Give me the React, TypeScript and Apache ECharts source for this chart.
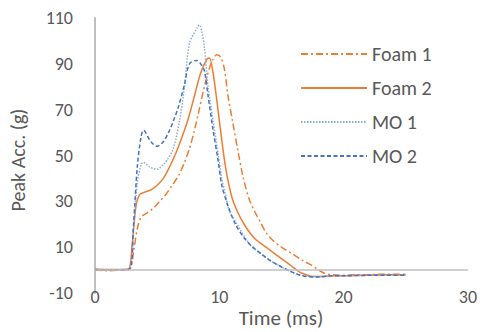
import React, { useEffect, useRef } from "react";
import * as echarts from "echarts";

const seriesNames = ["Foam 1", "Foam 2", "MO 1", "MO 2"];

const foam1: [number, number][] = [
  [0, 0], [1, -0.3], [2, 0], [2.8, 0.5], [3.1, 8], [3.4, 18], [3.7, 23], [4.2, 25], [4.7, 27],
  [5.2, 30], [5.7, 33], [6.2, 37], [6.7, 41], [7.2, 47], [7.6, 53], [8, 61], [8.3, 68],
  [8.8, 80], [9.2, 88], [9.5, 92], [9.8, 94], [10.1, 93], [10.4, 88], [10.7, 76], [11.1, 64],
  [11.5, 52], [11.9, 41], [12.4, 31], [12.9, 25], [13.3, 21], [13.8, 16], [14.3, 13],
  [15, 10], [15.9, 7], [16.6, 4.5], [17.3, 2.5], [18, 0], [18.5, -1.5], [19, -2],
  [20, -2.3], [21, -2], [22, -2], [23, -1.8], [24, -1.8], [25, -1.8],
];

const foam2: [number, number][] = [
  [0, 0.5], [1, 0.3], [2, 0.3], [2.7, 0.5], [3.0, 12], [3.3, 28], [3.6, 33], [4, 34],
  [4.5, 35], [5, 37], [5.5, 40], [6, 45], [6.5, 51], [7, 58], [7.5, 66], [8, 76], [8.5, 86],
  [9, 92], [9.2, 92.5], [9.5, 86], [9.8, 74], [10.1, 61], [10.5, 45], [11, 32], [11.5, 25],
  [12, 20], [12.5, 16], [13, 13], [13.5, 11], [14, 9], [14.5, 7], [15, 5], [15.5, 3], [16, 1],
  [16.5, -1], [17, -2], [17.5, -2.8], [18, -2.8], [19, -2.5], [20, -2.5], [21, -2.3],
  [22, -2.3], [23, -2], [24, -2], [25, -2],
];

const mo1: [number, number][] = [
  [0, 0], [1, 0], [2, 0], [2.8, 0.5], [3.1, 18], [3.4, 38], [3.7, 46], [3.9, 47], [4.4, 45],
  [5, 44], [5.5, 46], [5.8, 48], [6.3, 53], [6.8, 65], [7.2, 80], [7.6, 99], [8.2, 105.5],
  [8.4, 107], [8.6, 104], [8.8, 97], [9.1, 80], [9.5, 65], [9.9, 51], [10.2, 40], [10.5, 33],
  [10.8, 26], [11.6, 18.5], [12.4, 11.5], [13, 8.5], [14, 4.5], [14.8, 2], [15.7, -0.5],
  [16.4, -2], [17, -2.6], [18, -2.8], [19, -2.5], [20, -2.5], [22, -2.3], [25, -2.3],
];

const mo2: [number, number][] = [
  [0, 0], [1, 0], [2, 0], [2.8, 0.5], [3.1, 20], [3.4, 45], [3.7, 58], [3.9, 61], [4.5, 56],
  [5, 54], [5.5, 56], [6, 61], [6.3, 65], [6.7, 71], [7.2, 81], [7.6, 90], [8.2, 91.5],
  [8.5, 90], [8.8, 87], [9.1, 76], [9.5, 61], [9.9, 48], [10.2, 37], [10.7, 28], [11.3, 20],
  [12, 14], [12.7, 10], [13.4, 7], [14, 4.5], [14.8, 2], [15.7, -0.5], [16.4, -2], [17, -2.8],
  [18, -3], [19, -2.5], [20, -2.5], [22, -2.3], [25, -2.2],
];

const xTicks = { min: 0, max: 30, interval: 10 };
const yTicks = { min: -10, max: 110, interval: 20 };
const xTitle = "Time (ms)";
const yTitle = "Peak Acc. (g)";

const FONT = "Carlito, Lato, sans-serif";
const TXT = "#595959";
const AXIS = "#BFBFBF";

export default function App() {
  const ref = useRef<HTMLDivElement>(null);
  useEffect(() => {
    if (!ref.current) return;
    const chart = echarts.init(ref.current, null, { renderer: "svg" });
    const mk = (name: string, data: [number, number][], color: string, type: any, width: number) => ({
      name,
      type: "line",
      data,
      smooth: 0.3,
      symbol: "none",
      lineStyle: { color, type, width },
      itemStyle: { color },
    });
    const s0: any = mk(seriesNames[0], foam1, "#ED7D31", [7, 3, 2, 3], 1.5);
    s0.markLine = {
      silent: true,
      symbol: "none",
      label: { show: false },
      lineStyle: { color: AXIS, type: "solid", width: 1.5 },
      data: [{ yAxis: 0 }],
    };
    chart.setOption({
      animation: false,
      grid: { left: 95, right: 12, top: 18, bottom: 39 },
      legend: {
        orient: "vertical",
        left: 295,
        top: 39,
        itemWidth: 66,
        itemHeight: 14,
        itemGap: 14,
        itemStyle: { opacity: 0 },
        textStyle: { color: TXT, fontFamily: FONT, fontSize: 20, lineHeight: 14 },
        data: seriesNames,
      },
      xAxis: {
        type: "value",
        ...xTicks,
        axisLine: { show: false, onZero: false },
        axisTick: { show: false },
        splitLine: { show: false },
        axisLabel: { color: TXT, fontFamily: FONT, fontSize: 18, margin: -5 },
      },
      yAxis: {
        type: "value",
        ...yTicks,
        axisLine: { show: true, lineStyle: { color: AXIS, width: 2 } },
        axisTick: { show: false },
        splitLine: { show: false },
        axisLabel: { color: TXT, fontFamily: FONT, fontSize: 18, margin: 22 },
      },
      graphic: [
        {
          type: "text",
          x: 18,
          y: 160,
          rotation: Math.PI / 2,
          style: {
            text: yTitle,
            fill: TXT,
            font: `20px ${FONT}`,
            align: "center",
            verticalAlign: "middle",
          },
        },
        {
          type: "text",
          x: 281,
          y: 318,
          style: {
            text: xTitle,
            fill: TXT,
            font: `21px ${FONT}`,
            align: "center",
            verticalAlign: "middle",
          },
        },
      ],
      series: [
        s0,
        mk(seriesNames[1], foam2, "#ED7D31", "solid", 1.5),
        mk(seriesNames[2], mo1, "#8FAADC", [1.5, 1.5], 1.5),
        mk(seriesNames[3], mo2, "#4472C4", [4, 2.5], 1.5),
      ],
    });
    return () => chart.dispose();
  }, []);
  return (
    <div
      ref={ref}
      style={{ position: "fixed", left: 0, top: 0, width: 480, height: 332, background: "#fff" }}
    />
  );
}
